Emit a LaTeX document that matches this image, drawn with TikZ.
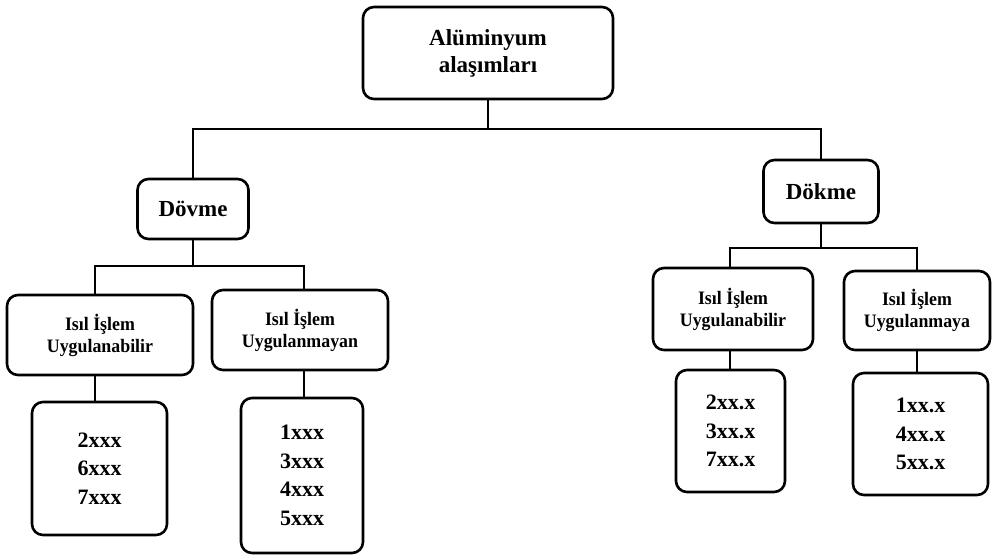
\documentclass[tikz,border=0pt]{standalone}
\usepackage{fontspec}
\setmainfont{Liberation Serif}
\newfontfamily\condserif[FakeStretch=0.94]{Liberation Serif}
\begin{document}
\begin{tikzpicture}[x=1pt,y=-1pt,
  box/.style={draw=black, line width=2.6pt, rounded corners=11pt, fill=white, inner sep=0pt, align=center},
  bigtxt/.style={font=\bfseries\fontsize{23}{27}\selectfont},
  midtxt/.style={font=\condserif\bfseries\fontsize{19}{22}\selectfont},
  numtxt/.style={font=\bfseries\fontsize{22}{28.5}\selectfont},
  conn/.style={draw=black, line width=1.1pt}]
\useasboundingbox (0,0) rectangle (992,555);
% nodes
\node[box, bigtxt, minimum width=250pt, minimum height=92pt] (root) at (488,53) {Alüminyum\\alaşımları};
\node[box, bigtxt, minimum width=111pt, minimum height=60pt] (dov) at (193,209) {Dövme};
\node[box, bigtxt, minimum width=115pt, minimum height=63pt] (dok) at (821,191.5) {Dökme};
\node[box, midtxt, minimum width=186pt, minimum height=80pt] (l1) at (100,335) {Isıl İşlem\\Uygulanabilir};
\node[box, midtxt, minimum width=176pt, minimum height=80pt] (r1) at (300,330) {Isıl İşlem\\Uygulanmayan};
\node[box, midtxt, minimum width=160pt, minimum height=82pt] (l2) at (733,309) {Isıl İşlem\\Uygulanabilir};
\node[box, midtxt, minimum width=146pt, minimum height=79pt] (r2) at (917,310.5) {Isıl İşlem\\Uygulanmaya};
\node[box, numtxt, minimum width=135pt, minimum height=133pt] (l1c) at (99.5,468.5) {2xxx\\6xxx\\7xxx};
\node[box, numtxt, minimum width=122pt, minimum height=155pt] (r1c) at (302,475.5) {1xxx\\3xxx\\4xxx\\5xxx};
\node[box, numtxt, minimum width=109pt, minimum height=122pt] (l2c) at (730.5,431) {2xx.x\\3xx.x\\7xx.x};
\node[box, numtxt, minimum width=135pt, minimum height=122pt] (r2c) at (920.5,434) {1xx.x\\4xx.x\\5xx.x};
% junctions
\coordinate (j1) at (488,129);
\coordinate (j2) at (193,266);
\coordinate (j3) at (821,248);
% connectors
\draw[conn] (root.south) -- (j1);
\draw[conn] (j1) -| (dov.north);
\draw[conn] (j1) -| (dok.north);
\draw[conn] (dov.south) -- (j2);
\draw[conn] (j2) -| ([xshift=-5pt]l1.north);
\draw[conn] (j2) -| ([xshift=4pt]r1.north);
\draw[conn] (dok.south) -- (j3);
\draw[conn] (j3) -| ([xshift=-3pt]l2.north);
\draw[conn] (j3) -| (r2.north);
\draw[conn] ([xshift=-5pt]l1.south) -- ([xshift=-5pt]l1.south |- l1c.north);
\draw[conn] ([xshift=4pt]r1.south) -- ([xshift=4pt]r1.south |- r1c.north);
\draw[conn] ([xshift=-3pt]l2.south) -- ([xshift=-3pt]l2.south |- l2c.north);
\draw[conn] (r2.south) -- (r2.south |- r2c.north);
\end{tikzpicture}
\end{document}
